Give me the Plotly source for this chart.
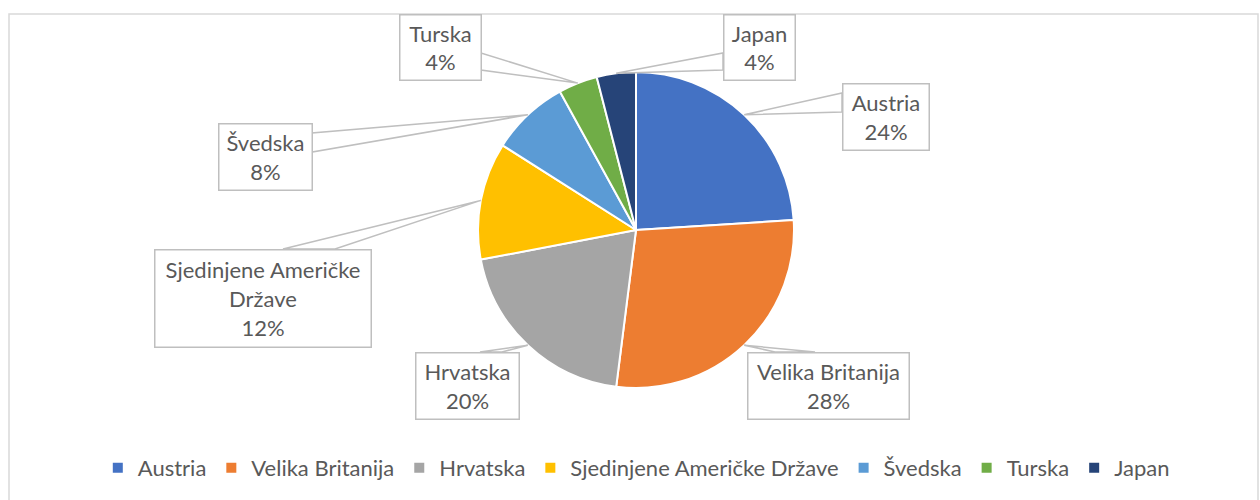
import math
import plotly.graph_objects as go

labels = ["Austria", "Velika Britanija", "Hrvatska", "Sjedinjene Američke Države", "Švedska", "Turska", "Japan"]
values = [24, 28, 20, 12, 8, 4, 4]
colors = ["#4472C4", "#ED7D31", "#A5A5A5", "#FFC000", "#5B9BD5", "#70AD47", "#264478"]
box_names = ["Austria", "Velika Britanija", "Hrvatska", "Sjedinjene Američke<br>Države", "Švedska", "Turska", "Japan"]

W, H = 1260, 500
CX, CY, R = 636, 230, 158
FONT = "Lato, 'Open Sans', sans-serif"
TXT = "#595959"
LINE = "#bfbfbf"

# callout boxes (left, top, right, bottom) + box side where the leader wedge attaches
boxes = [
    (842, 83, 929, 150, "left", 93, 112),
    (747, 352, 909, 419, "top", 775, 815),
    (415, 352, 519, 419, "top", 480, 502),
    (154, 249, 371, 347, "top", 283, 335),
    (218, 123, 312, 190, "right", 133, 152),
    (399, 14, 481, 80, "right", 53, 70),
    (723, 14, 795, 80, "left", 53, 70),
]

fig = go.Figure()

fig.add_trace(go.Pie(
    labels=labels,
    values=values,
    sort=False,
    direction="clockwise",
    rotation=0,
    textinfo="none",
    hoverinfo="label+percent",
    marker=dict(colors=colors, line=dict(color="white", width=2)),
    domain=dict(x=[(CX - R) / W, (CX + R) / W], y=[1 - (CY + R) / H, 1 - (CY - R) / H]),
))

# invisible helper trace so the pixel-scaled axes exist
fig.add_trace(go.Scatter(x=[0, W], y=[0, H], mode="markers", marker=dict(opacity=0),
                         showlegend=False, hoverinfo="skip"))

total = sum(values)
shapes = [dict(type="rect", x0=9, y0=14, x1=1258, y1=520, xref="x", yref="y",
               line=dict(color="#d9d9d9", width=1.5), layer="below")]
annotations = []
cum = 0
for name, v, (x0, y0, x1, y1, side, b0, b1) in zip(box_names, values, boxes):
    mid = (cum + v / 2) / total
    cum += v
    th = 2 * math.pi * mid
    tx = CX + R * math.sin(th)
    ty = CY - R * math.cos(th)
    if side == "left":
        p1, p2 = (x0, b0), (x0, b1)
    elif side == "right":
        p1, p2 = (x1, b0), (x1, b1)
    else:
        p1, p2 = (b0, y0), (b1, y0)
    shapes.append(dict(
        type="path", xref="x", yref="y", layer="above",
        path=f"M {tx:.1f},{ty:.1f} L {p1[0]},{p1[1]} L {p2[0]},{p2[1]} Z",
        fillcolor="white", line=dict(color=LINE, width=1.5),
    ))
    pct = round(v / total * 100)
    annotations.append(dict(
        x=(x0 + x1) / 2, y=(y0 + y1) / 2, xref="x", yref="y",
        text=f"{name}<br>{pct}%", showarrow=False,
        width=x1 - x0 - 2, height=y1 - y0 - 2, borderpad=0,
        bgcolor="white", bordercolor=LINE, borderwidth=1.5,
        font=dict(family=FONT, size=22, color=TXT), align="center",
    ))

fig.update_layout(
    width=W, height=H,
    margin=dict(l=0, r=0, t=0, b=0),
    paper_bgcolor="white", plot_bgcolor="white",
    xaxis=dict(range=[0, W], visible=False, fixedrange=True),
    yaxis=dict(range=[H, 0], visible=False, fixedrange=True),
    shapes=shapes,
    annotations=annotations,
    showlegend=True,
    legend=dict(orientation="h", x=0.505, xanchor="center", y=1 - 468 / H, yanchor="middle",
                font=dict(family=FONT, size=22, color=TXT), traceorder="normal"),
    font=dict(family=FONT, color=TXT),
)

fig.write_html("out.html", config={"displayModeBar": False},
               post_script="document.body.style.margin='0';document.body.style.overflow='hidden';")
